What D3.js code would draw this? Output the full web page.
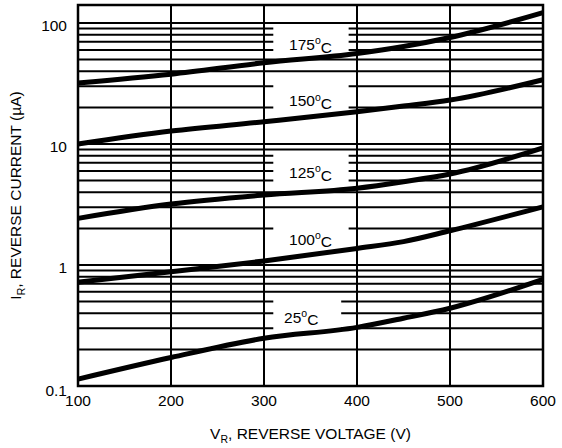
<!DOCTYPE html>
<html>
<head>
<meta charset="utf-8">
<script src="https://cdn.jsdelivr.net/npm/d3@7"></script>
<style>
  body { margin: 0; background: #fff; }
  text { font-family: "Liberation Sans", Arial, sans-serif; fill: #000; }
</style>
</head>
<body>
<script>
// reverse current vs reverse voltage, one curve per junction temperature
let voltages = [100, 200, 300, 400, 450, 500, 600];
let temps = ["175", "150", "125", "100", "25"];
let cur175 = [32, 37.8, 47, 56, 64, 76, 122];
let cur150 = [10, 12.8, 15.3, 18.5, 20.6, 23.1, 34];
let cur125 = [2.43, 3.19, 3.79, 4.31, 4.88, 5.65, 9.3];
let cur100 = [0.72, 0.88, 1.08, 1.37, 1.56, 1.92, 3.03];
let cur25 = [0.114, 0.172, 0.248, 0.305, 0.363, 0.439, 0.76];

let xTicks = [100, 200, 300, 400, 500, 600];
let yTicks = [0.1, 1, 10, 100];
let yTickText = ["0.1", "1", "10", "100"];

// label placement (in data units) and the grid lines cut around each label
let labelV = [350, 350, 350, 350, 340];
let labelI = [68, 23.2, 5.93, 1.67, 0.379];
let gapFrom = [310, 310, 310, 310, 310];
let gapTo = [391, 391, 391, 391, 383];
let gapLines = [[90, 80, 70, 60], [30, 20], [8, 7, 6, 5], [2], [0.5, 0.4, 0.3]];

let width = 562, height = 448;
let fs = 15.5, fsSub = 10.5;

let svg = d3.select("body")
.append("svg")
.attr("width", width)
.attr("height", height);

let x = d3.scaleLinear().domain([100, 600]).range([78, 543]);
let y = d3.scaleLog().domain([0.1, 141]).range([386, 5]);

// horizontal grid: every 1..9 of each decade
let gridVals = [];
[0.1, 1, 10].forEach(d => {
	for (let k = 1; k <= 9; k++) gridVals.push(+(d * k).toPrecision(3));
});
gridVals.push(100);

let segs = [];
gridVals.forEach(v => {
	let idx = gapLines.findIndex(g => g.indexOf(v) >= 0);
	if (idx < 0) segs.push({v: v, a: 100, b: 600});
	else {
		segs.push({v: v, a: 100, b: gapFrom[idx]});
		segs.push({v: v, a: gapTo[idx], b: 600});
	}
});

let grid = svg.append("g")
.attr("stroke", "#000")
.attr("stroke-width", 2);

grid.selectAll("line.h")
.data(segs)
.enter()
.append("line")
.attr("class", "h")
.attr("x1", d => x(d.a))
.attr("x2", d => x(d.b))
.attr("y1", d => y(d.v))
.attr("y2", d => y(d.v));

grid.selectAll("line.v")
.data(xTicks)
.enter()
.append("line")
.attr("class", "v")
.attr("x1", d => x(d))
.attr("x2", d => x(d))
.attr("y1", y(0.1))
.attr("y2", y(141));

// frame
svg.append("rect")
.attr("x", x(100))
.attr("y", y(141))
.attr("width", x(600) - x(100))
.attr("height", y(0.1) - y(141))
.attr("fill", "none")
.attr("stroke", "#000")
.attr("stroke-width", 2.5);

// curves
let series = [cur175, cur150, cur125, cur100, cur25];
let line = d3.line()
.x((d, i) => x(voltages[i]))
.y(d => y(d))
.curve(d3.curveMonotoneX);

svg.append("g")
.attr("fill", "none")
.attr("stroke", "#000")
.attr("stroke-width", 5)
.selectAll("path")
.data(series)
.enter()
.append("path")
.attr("d", line);

// temperature labels
let lab = svg.append("g")
.attr("font-size", fs)
.attr("text-anchor", "middle")
.selectAll("text")
.data(temps)
.enter()
.append("text")
.attr("x", (d, i) => x(labelV[i]))
.attr("y", (d, i) => y(labelI[i]))
.attr("dy", "0.42em");
lab.append("tspan").text(d => d);
lab.append("tspan").attr("font-size", fsSub).attr("dy", "-0.55em").text("o");
lab.append("tspan").attr("dy", "0.55em").text("C");

// y tick labels
svg.append("g")
.attr("font-size", fs)
.attr("text-anchor", "end")
.selectAll("text")
.data(yTicks)
.enter()
.append("text")
.attr("x", 67)
.attr("y", d => y(d) + (d === 0.1 ? 4 : 2))
.attr("dy", "0.36em")
.text((d, i) => yTickText[i]);

// x tick labels
svg.append("g")
.attr("font-size", fs)
.attr("text-anchor", "middle")
.selectAll("text")
.data(xTicks)
.enter()
.append("text")
.attr("x", d => x(d))
.attr("y", y(0.1) + 20)
.text(d => d);

// axis titles
let xt = svg.append("text")
.attr("font-size", fs)
.attr("text-anchor", "middle")
.attr("x", (x(100) + x(600)) / 2)
.attr("y", 439);
xt.append("tspan").text("V");
xt.append("tspan").attr("font-size", fsSub).attr("dy", 4).text("R");
xt.append("tspan").attr("dy", -4).text(", REVERSE VOLTAGE (V)");

let yt = svg.append("text")
.attr("font-size", fs)
.attr("text-anchor", "middle")
.attr("transform", "translate(21," + ((y(0.1) + y(141)) / 2) + ") rotate(-90)");
yt.append("tspan").text("I");
yt.append("tspan").attr("font-size", fsSub).attr("dy", 4).text("R");
yt.append("tspan").attr("dy", -4).text(", REVERSE CURRENT (\u00b5A)");
</script>
</body>
</html>
